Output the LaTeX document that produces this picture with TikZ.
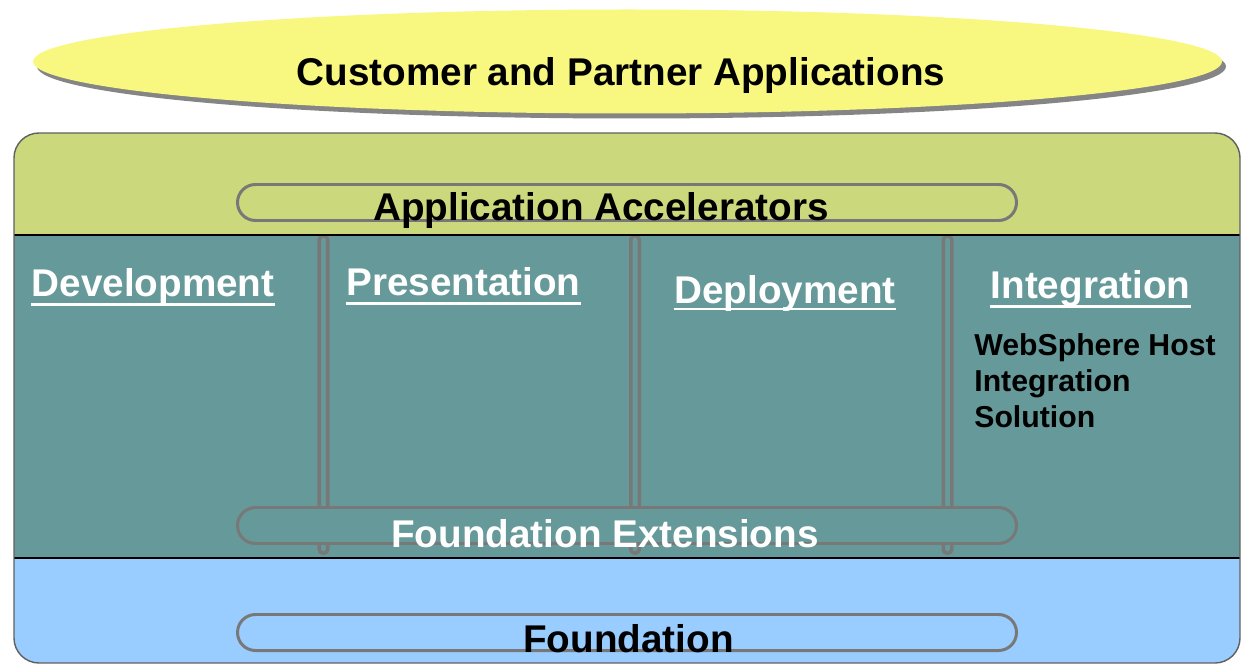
\documentclass[tikz,border=0pt]{standalone}
\usepackage{fontspec}
\setmainfont{Liberation Sans}
\usetikzlibrary{shapes.geometric,shadows,positioning}

\definecolor{appyellow}{RGB}{248,248,128}
\definecolor{accgreen}{RGB}{204,216,124}
\definecolor{midteal}{RGB}{102,153,153}
\definecolor{fndblue}{RGB}{153,204,255}
\definecolor{pillgray}{RGB}{120,120,120}
\definecolor{edgegray}{RGB}{96,96,96}

\begin{document}
\begin{tikzpicture}[
  bigtext/.style={font=\fontsize{22}{26}\selectfont\bfseries, inner sep=0pt, anchor=base},
  heading/.style={bigtext, text=white},
  pill/.style={draw=pillgray, line width=1.7pt, rounded corners=0.36cm, minimum width=15.58cm, minimum height=0.72cm, inner sep=0pt},
  pillar/.style={draw=pillgray, fill=midteal, line width=2pt, rounded corners=0.08cm, minimum width=0.17cm, minimum height=6.35cm, inner sep=0pt},
  ulbar/.style={white, line width=1.7pt},
  divider/.style={black, line width=1.7pt}
]

\useasboundingbox (0,0) rectangle (24.86,13.30);

\node[ellipse, fill=appyellow, minimum width=23.78cm, minimum height=2.08cm, inner sep=0pt,
  drop shadow={shadow xshift=0.08cm, shadow yshift=-0.1cm, fill=pillgray, opacity=0.9}] (apps) at (12.55,12.07) {};
\node[bigtext] (appslabel) at (12.42,11.58) {Customer and Partner Applications};

\begin{scope}
\clip[rounded corners=0.5cm] (0.28,0.04) rectangle (24.80,10.64);
\fill[accgreen] (0.28,8.60) rectangle (24.80,10.64);
\fill[midteal] (0.28,2.14) rectangle (24.80,8.60);
\fill[fndblue] (0.28,0.04) rectangle (24.80,2.14);
\end{scope}

\begin{scope}
\clip (0.28,2.14) rectangle (24.80,8.60);
\node[pillar] (col1) at (6.47,5.41) {};
\node[pillar] (col2) at (12.70,5.41) {};
\node[pillar] (col3) at (18.95,5.41) {};
\end{scope}

\node[pill, fill=accgreen] (accel) at (12.54,9.25) {};
\node[pill, fill=midteal] (fext) at (12.54,2.79) {};
\node[pill, fill=fndblue] (fnd) at (12.54,0.65) {};

\draw[divider] (0.28,8.60) -- (24.80,8.60);
\draw[divider] (0.28,2.14) -- (24.80,2.14);
\draw[edgegray, line width=0.8pt, rounded corners=0.5cm] (0.28,0.04) rectangle (24.80,10.64);

\node[bigtext] (accellabel) at (12.02,8.90) {Application Accelerators};
\node[bigtext, text=white] (fextlabel) at (12.10,2.36) {Foundation Extensions};
\node[bigtext] (fndlabel) at (12.57,0.26) {Foundation};

\node[heading] (dev) at (3.06,7.36) {Development};
\node[heading] (pres) at (9.27,7.38) {Presentation};
\node[heading] (depl) at (15.70,7.24) {Deployment};
\node[heading] (integ) at (21.81,7.34) {Integration};

\draw[ulbar] ([yshift=-0.15cm]dev.base west) -- ([yshift=-0.15cm]dev.base east);
\draw[ulbar] ([yshift=-0.15cm]pres.base west) -- ([yshift=-0.15cm]pres.base east);
\draw[ulbar] ([yshift=-0.12cm]depl.base west) -- ([yshift=-0.12cm]depl.base east);
\draw[ulbar] ([yshift=-0.17cm]integ.base west) -- ([yshift=-0.17cm]integ.base east);

\node[font=\fontsize{17.2}{20.4}\selectfont\bfseries, align=left, anchor=north west, inner sep=0pt] (host) at (19.48,6.63) {WebSphere Host\\Integration\\Solution};

\end{tikzpicture}
\end{document}
